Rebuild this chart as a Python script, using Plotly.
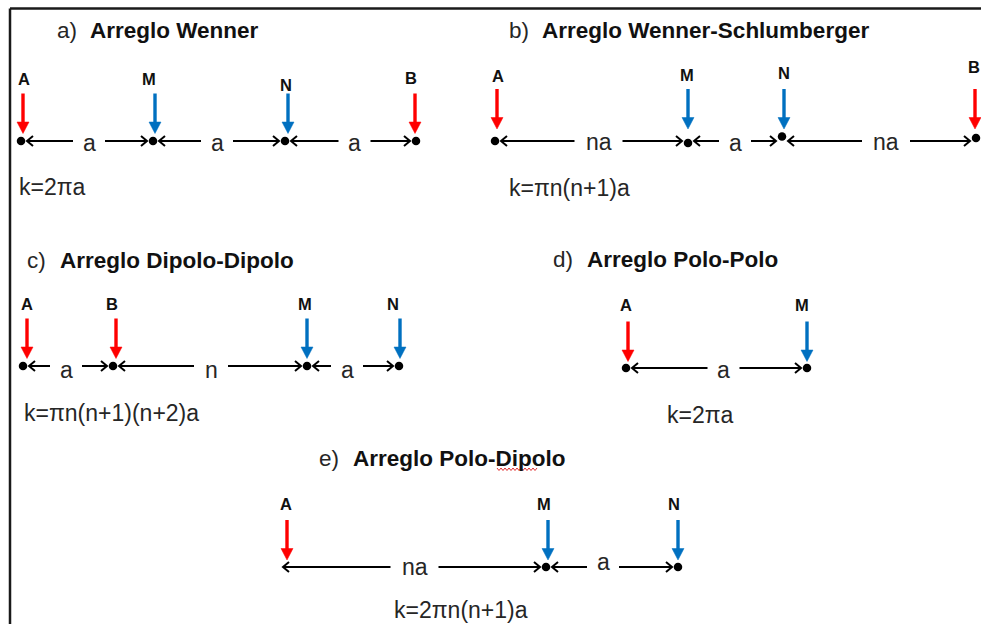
import plotly.graph_objects as go

W, H = 981, 624

# ---------------- content (diagram data) ----------------
panel_keys = ["a)", "b)", "c)", "d)", "e)"]
panel_titles = ["Arreglo Wenner", "Arreglo Wenner-Schlumberger", "Arreglo Dipolo-Dipolo",
                "Arreglo Polo-Polo", "Arreglo Polo-Dipolo"]
panel_formulas = ["k=2πa", "k=πn(n+1)a", "k=πn(n+1)(n+2)a", "k=2πa", "k=2πn(n+1)a"]

wenner_names = ["A", "M", "N", "B"]
wenner_x = [21, 153, 285, 416]
wenner_spans = [(0, 1, "a"), (1, 2, "a"), (2, 3, "a")]

schl_names = ["A", "M", "N", "B"]
schl_x = [495, 688, 782, 976]
schl_spans = [(0, 1, "na"), (1, 2, "a"), (2, 3, "na")]

dd_names = ["A", "B", "M", "N"]
dd_x = [23, 113, 307, 399]
dd_spans = [(0, 1, "a"), (1, 2, "n"), (2, 3, "a")]

pp_names = ["A", "M"]
pp_x = [626, 807]
pp_spans = [(0, 1, "a")]

pd_names = ["A", "M", "N"]
pd_x = [283, 546, 678]
pd_has_dot = [False, True, True]
pd_spans = [(0, 1, "na"), (1, 2, "a")]

# ---------------- layout / style ----------------
RED = "#FF0000"
BLUE = "#0070C0"
FONT = "Liberation Sans, Arial, sans-serif"
TITLE_SIZE = 22.5
TEXT_SIZE = 23
LABEL_SIZE = 16.5

panels = [
    dict(names=wenner_names, x=wenner_x, spans=wenner_spans, dots=[True] * 4,
         dot_y=[141, 141, 141, 141], line_y=141, title_y=30, key_x=55, title_x=88,
         arrow=(93.5, 133.5), arrow_dx=[2, 2, 3, -1],
         lab_y=[79, 79, 84.5, 77.5], lab_dx=[3, -4, 1, -5],
         span_dx=[2, -2, 4], span_y=[145, 145, 145], form=(17, 187)),
    dict(names=schl_names, x=schl_x, spans=schl_spans, dots=[True] * 4,
         dot_y=[141, 143, 136.5, 138], line_y=141, title_y=30, key_x=507, title_x=540,
         arrow=(89, 129), arrow_dx=[2, 0, 2, -1],
         lab_y=[76, 75, 72.5, 67], lab_dx=[3, -1, 2, -2],
         span_dx=[7, 0, 7], span_y=[143.5, 145, 143.5], form=(507, 187.5)),
    dict(names=dd_names, x=dd_x, spans=dd_spans, dots=[True] * 4,
         dot_y=[366, 366, 366, 366], line_y=366, title_y=260, key_x=25, title_x=58,
         arrow=(318.5, 358.5), arrow_dx=[4, 3, 0, 1],
         lab_y=[304, 304, 304, 304], lab_dx=[4, -1, -2, -6.5],
         span_dx=[-2, 1, -6], span_y=[371.5, 371.5, 371.5], form=(22, 413)),
    dict(names=pp_names, x=pp_x, spans=pp_spans, dots=[True] * 2,
         dot_y=[368, 368], line_y=368, title_y=259.5, key_x=551, title_x=585,
         arrow=(321.5, 361.5), arrow_dx=[2, 0],
         lab_y=[305, 305], lab_dx=[0, -5],
         span_dx=[7], span_y=[372], form=(665, 415)),
    dict(names=pd_names, x=pd_x, spans=pd_spans, dots=pd_has_dot,
         dot_y=[567, 567, 567], line_y=567, title_y=458, key_x=317, title_x=351,
         arrow=(520, 560), arrow_dx=[4, 2, 0],
         lab_y=[504, 504, 504], lab_dx=[3, -2, -4],
         span_dx=[0, -9], span_y=[569, 564], form=(392, 609.5)),
]

GAP = {"a": 16, "na": 24, "n": 17}
CHEV_OFF = 6      # chevron tip distance from the dot centre
CHEV_DX, CHEV_DY = 6, 5
HEAD_W, HEAD_H = 6, 11.5

fig = go.Figure()
ann = []
shapes = []

line_x, line_y = [], []
dot_x, dot_y = [], []

for p, key, title, formula in zip(panels, panel_keys, panel_titles, panel_formulas):
    # titles
    ann.append(dict(x=p["key_x"], y=p["title_y"], text=key, xanchor="left", yanchor="middle",
                    font=dict(family=FONT, size=TITLE_SIZE, color="#262626")))
    ann.append(dict(x=p["title_x"], y=p["title_y"], text="<b>" + title + "</b>", xanchor="left",
                    yanchor="middle", font=dict(family=FONT, size=TITLE_SIZE, color="#111111")))
    # formula
    ann.append(dict(x=p["form"][0], y=p["form"][1], text=formula, xanchor="left", yanchor="middle",
                    font=dict(family=FONT, size=TEXT_SIZE, color="#262626")))

    # electrodes
    top, tip = p["arrow"]
    for i, name in enumerate(p["names"]):
        ex = p["x"][i]
        if p["dots"][i]:
            dot_x.append(ex)
            dot_y.append(p["dot_y"][i])
        col = RED if name in ("A", "B") else BLUE
        ax = ex + p["arrow_dx"][i]
        shapes.append(dict(type="line", x0=ax, x1=ax, y0=top, y1=tip - HEAD_H + 1,
                           line=dict(color=col, width=3.4)))
        shapes.append(dict(type="path",
                           path=f"M{ax - HEAD_W},{tip - HEAD_H} L{ax + HEAD_W},{tip - HEAD_H} L{ax},{tip} Z",
                           fillcolor=col, line=dict(color=col, width=0.5)))
        ann.append(dict(x=ex + p["lab_dx"][i], y=p["lab_y"][i], text="<b>" + name + "</b>",
                        xanchor="center", yanchor="middle",
                        font=dict(family=FONT, size=LABEL_SIZE, color="#111111")))

    # dimension lines
    ly = p["line_y"]
    for k, (i0, i1, lab) in enumerate(p["spans"]):
        x0 = p["x"][i0] + (CHEV_OFF if p["dots"][i0] else 0)
        x1 = p["x"][i1] - (CHEV_OFF if p["dots"][i1] else 0)
        mid = (p["x"][i0] + p["x"][i1]) / 2 + p["span_dx"][k]
        g = GAP[lab]
        line_x += [x0, mid - g, None, mid + g, x1, None]
        line_y += [ly, ly, None, ly, ly, None]
        # chevrons
        line_x += [x0 + CHEV_DX, x0, x0 + CHEV_DX, None, x1 - CHEV_DX, x1, x1 - CHEV_DX, None]
        line_y += [ly - CHEV_DY, ly, ly + CHEV_DY, None, ly - CHEV_DY, ly, ly + CHEV_DY, None]
        ann.append(dict(x=mid, y=p["span_y"][k] - 2, text=lab, xanchor="center", yanchor="middle",
                        font=dict(family=FONT, size=TEXT_SIZE, color="#262626")))

fig.add_trace(go.Scatter(x=line_x, y=line_y, mode="lines", line=dict(color="black", width=2),
                         hoverinfo="skip", showlegend=False))
fig.add_trace(go.Scatter(x=dot_x, y=dot_y, mode="markers",
                         marker=dict(color="black", size=8.5, line=dict(width=0)),
                         hoverinfo="skip", showlegend=False))

# spell-check squiggle under "Dipolo"
sq_x, sq_y = [], []
xx, up = 497.0, True
while xx <= 538:
    sq_x.append(xx)
    sq_y.append(468 if up else 470.5)
    up = not up
    xx += 2
fig.add_trace(go.Scatter(x=sq_x, y=sq_y, mode="lines", line=dict(color="#E03030", width=1),
                         hoverinfo="skip", showlegend=False))

# page border (top and left)
shapes.append(dict(type="line", xref="paper", yref="paper", x0=10 / W, x1=1, y0=1 - 8.5 / H,
                   y1=1 - 8.5 / H, line=dict(color="#1a1a1a", width=2.5)))
shapes.append(dict(type="line", xref="paper", yref="paper", x0=10 / W, x1=10 / W, y0=0,
                   y1=1 - 8.5 / H, line=dict(color="#1a1a1a", width=2.5)))

for a in ann:
    a.update(xref="x", yref="y", showarrow=False)

fig.update_layout(
    width=W, height=H, margin=dict(l=0, r=0, t=0, b=0),
    paper_bgcolor="white", plot_bgcolor="white",
    xaxis=dict(range=[0, W], visible=False, fixedrange=True),
    yaxis=dict(range=[H, 0], visible=False, fixedrange=True),
    annotations=ann, shapes=shapes, showlegend=False,
)

fig.write_html(
    "out.html",
    config={"displayModeBar": False, "staticPlot": True},
    post_script=(
        "var s=document.createElement('style');"
        "s.textContent='html,body{margin:0;padding:0;overflow:hidden;width:981px;height:624px}"
        "::-webkit-scrollbar{display:none;width:0;height:0}';"
        "document.head.appendChild(s);"
        "document.documentElement.style.overflow='hidden';"
        "document.body.style.margin='0';document.body.style.overflow='hidden';"
        "window.scrollTo(0,0);"
    ),
)
